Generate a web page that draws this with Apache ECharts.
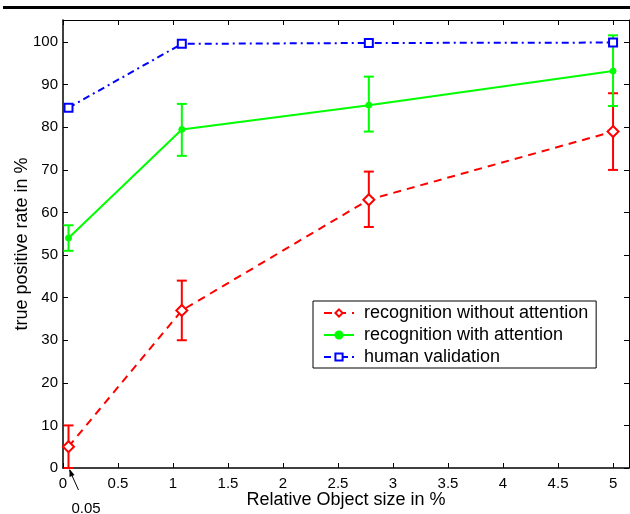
<!DOCTYPE html>
<html>
<head>
<meta charset="utf-8">
<script src="https://cdn.jsdelivr.net/npm/echarts@6/dist/echarts.min.js"></script>
<style>
  html, body { margin: 0; padding: 0; background: #fff; }
  #chart { width: 630px; height: 514px; }
</style>
</head>
<body>
<div id="chart"></div>
<script>
var sizes = [0.05, 1.08, 2.78, 5];
var withoutAttention = [5, 37, 63, 79];
var withoutLow = [0, 30, 56.6, 70];
var withoutHigh = [10, 44, 69.6, 88];
var withAttention = [54, 79.5, 85.2, 93.2];
var withLow = [51, 73.3, 79, 85];
var withHigh = [57, 85.5, 91.9, 101.6];
var humanValidation = [84.6, 99.6, 99.8, 99.9];

var fontFamily = '"Liberation Sans", Arial, Helvetica, sans-serif';

function pairs(ys) {
    return sizes.map(function (x, i) { return [x, ys[i]]; });
}
function bars(lo, hi) {
    return sizes.map(function (x, i) { return [x, lo[i], hi[i]]; });
}
function errorBar(color) {
    return function (params, api) {
        var top = api.coord([api.value(0), api.value(2)]);
        var bot = api.coord([api.value(0), api.value(1)]);
        var w = 5;
        var style = { stroke: color, lineWidth: 2 };
        return {
            type: 'group',
            children: [
                { type: 'line', shape: { x1: top[0], y1: top[1], x2: bot[0], y2: bot[1] }, style: style },
                { type: 'line', shape: { x1: top[0] - w, y1: top[1], x2: top[0] + w, y2: top[1] }, style: style },
                { type: 'line', shape: { x1: bot[0] - w, y1: bot[1], x2: bot[0] + w, y2: bot[1] }, style: style }
            ]
        };
    };
}

var chart = echarts.init(document.getElementById('chart'));

var axisText = { color: '#000', fontSize: 15, fontFamily: fontFamily };
var nameText = { color: '#000', fontSize: 18, fontFamily: fontFamily };

var option = {
    animation: false,
    backgroundColor: '#fff',
    grid: { left: 63, right: 1, top: 20, bottom: 46, outerBoundsMode: 'none', containLabel: false },
    legend: {
        orient: 'vertical',
        left: 313,
        top: 301,
        padding: [3, 8, 2, 10],
        itemWidth: 30,
        itemHeight: 9,
        itemGap: 4,
        borderColor: '#000',
        borderWidth: 1,
        backgroundColor: '#fff',
        textStyle: { color: '#000', fontSize: 18, fontFamily: fontFamily, padding: [0, 0, 0, 5] },
        data: ['recognition without attention', 'recognition with attention', 'human validation']
    },
    xAxis: [{
        type: 'value',
        min: 0,
        max: 5.145,
        interval: 0.5,
        name: 'Relative Object size in %',
        nameLocation: 'middle',
        nameGap: 23,
        nameMoveOverlap: false,
        nameTextStyle: nameText,
        axisLine: { onZero: false, lineStyle: { color: '#000', width: 1.5 } },
        axisTick: { inside: true, length: 5, lineStyle: { color: '#000' } },
        axisLabel: Object.assign({ margin: 8, showMaxLabel: false }, axisText),
        splitLine: { show: false }
    }, {
        type: 'value',
        position: 'top',
        min: 0,
        max: 5.145,
        interval: 0.5,
        axisLine: { onZero: false, lineStyle: { color: '#000', width: 1 } },
        axisTick: { inside: true, length: 5, lineStyle: { color: '#000' } },
        axisLabel: { show: false },
        splitLine: { show: false }
    }],
    yAxis: [{
        type: 'value',
        min: 0,
        max: 105.2,
        interval: 10,
        name: 'true positive rate in %',
        nameLocation: 'middle',
        nameGap: 32,
        nameMoveOverlap: false,
        nameTextStyle: nameText,
        axisLine: { show: true, onZero: false, lineStyle: { color: '#000', width: 1.5 } },
        axisTick: { show: true, inside: true, length: 5, lineStyle: { color: '#000' } },
        axisLabel: Object.assign({ margin: 5, showMaxLabel: false }, axisText),
        splitLine: { show: false }
    }, {
        type: 'value',
        position: 'right',
        min: 0,
        max: 105.2,
        interval: 10,
        axisLine: { show: true, onZero: false, lineStyle: { color: '#000', width: 1 } },
        axisTick: { show: true, inside: true, length: 5, lineStyle: { color: '#000' } },
        axisLabel: { show: false },
        splitLine: { show: false }
    }],
    series: [{
        type: 'custom',
        renderItem: errorBar('#ff0000'),
        data: bars(withoutLow, withoutHigh),
        clip: false,
        z: 2,
        silent: true
    }, {
        type: 'custom',
        renderItem: errorBar('#00ff00'),
        data: bars(withLow, withHigh),
        clip: false,
        z: 3,
        silent: true
    }, {
        name: 'recognition without attention',
        type: 'line',
        data: pairs(withoutAttention),
        color: '#ff0000',
        symbol: 'diamond',
        symbolSize: 11,
        showAllSymbol: true,
        itemStyle: { color: '#fff', borderColor: '#ff0000', borderWidth: 2 },
        lineStyle: { color: '#ff0000', width: 2, type: [8, 6] },
        z: 2
    }, {
        name: 'recognition with attention',
        type: 'line',
        data: pairs(withAttention),
        color: '#00ff00',
        symbol: 'circle',
        symbolSize: 6,
        itemStyle: { color: '#00ff00', borderColor: '#00ff00', borderWidth: 1 },
        lineStyle: { color: '#00ff00', width: 2 },
        z: 3
    }, {
        name: 'human validation',
        type: 'line',
        data: pairs(humanValidation),
        color: '#0000ff',
        symbol: 'rect',
        symbolSize: 8,
        itemStyle: { color: '#fff', borderColor: '#0000ff', borderWidth: 2 },
        lineStyle: { color: '#0000ff', width: 2, type: [7, 4, 2, 4] },
        z: 4
    }]
};

chart.setOption(option);

// rule at the top of the page and the "0.05" pointer
var tip = chart.convertToPixel({ xAxisIndex: 0, yAxisIndex: 0 }, [sizes[0], 0]);
chart.setOption({
    graphic: [{
        type: 'rect',
        shape: { x: 3, y: 6, width: 627, height: 3 },
        style: { fill: '#000' }
    }, {
        type: 'line',
        shape: { x1: tip[0] + 10, y1: tip[1] + 22, x2: tip[0] + 1, y2: tip[1] + 2 },
        style: { stroke: '#000', lineWidth: 1 }
    }, {
        type: 'polygon',
        shape: { points: [[tip[0] + 1, tip[1] + 1], [tip[0] + 1, tip[1] + 9], [tip[0] + 6, tip[1] + 7]] },
        style: { fill: '#000' }
    }, {
        type: 'text',
        x: tip[0] + 3,
        y: tip[1] + 33,
        style: { text: '0.05', fill: '#000', font: '15px ' + fontFamily }
    }]
});
</script>
</body>
</html>
